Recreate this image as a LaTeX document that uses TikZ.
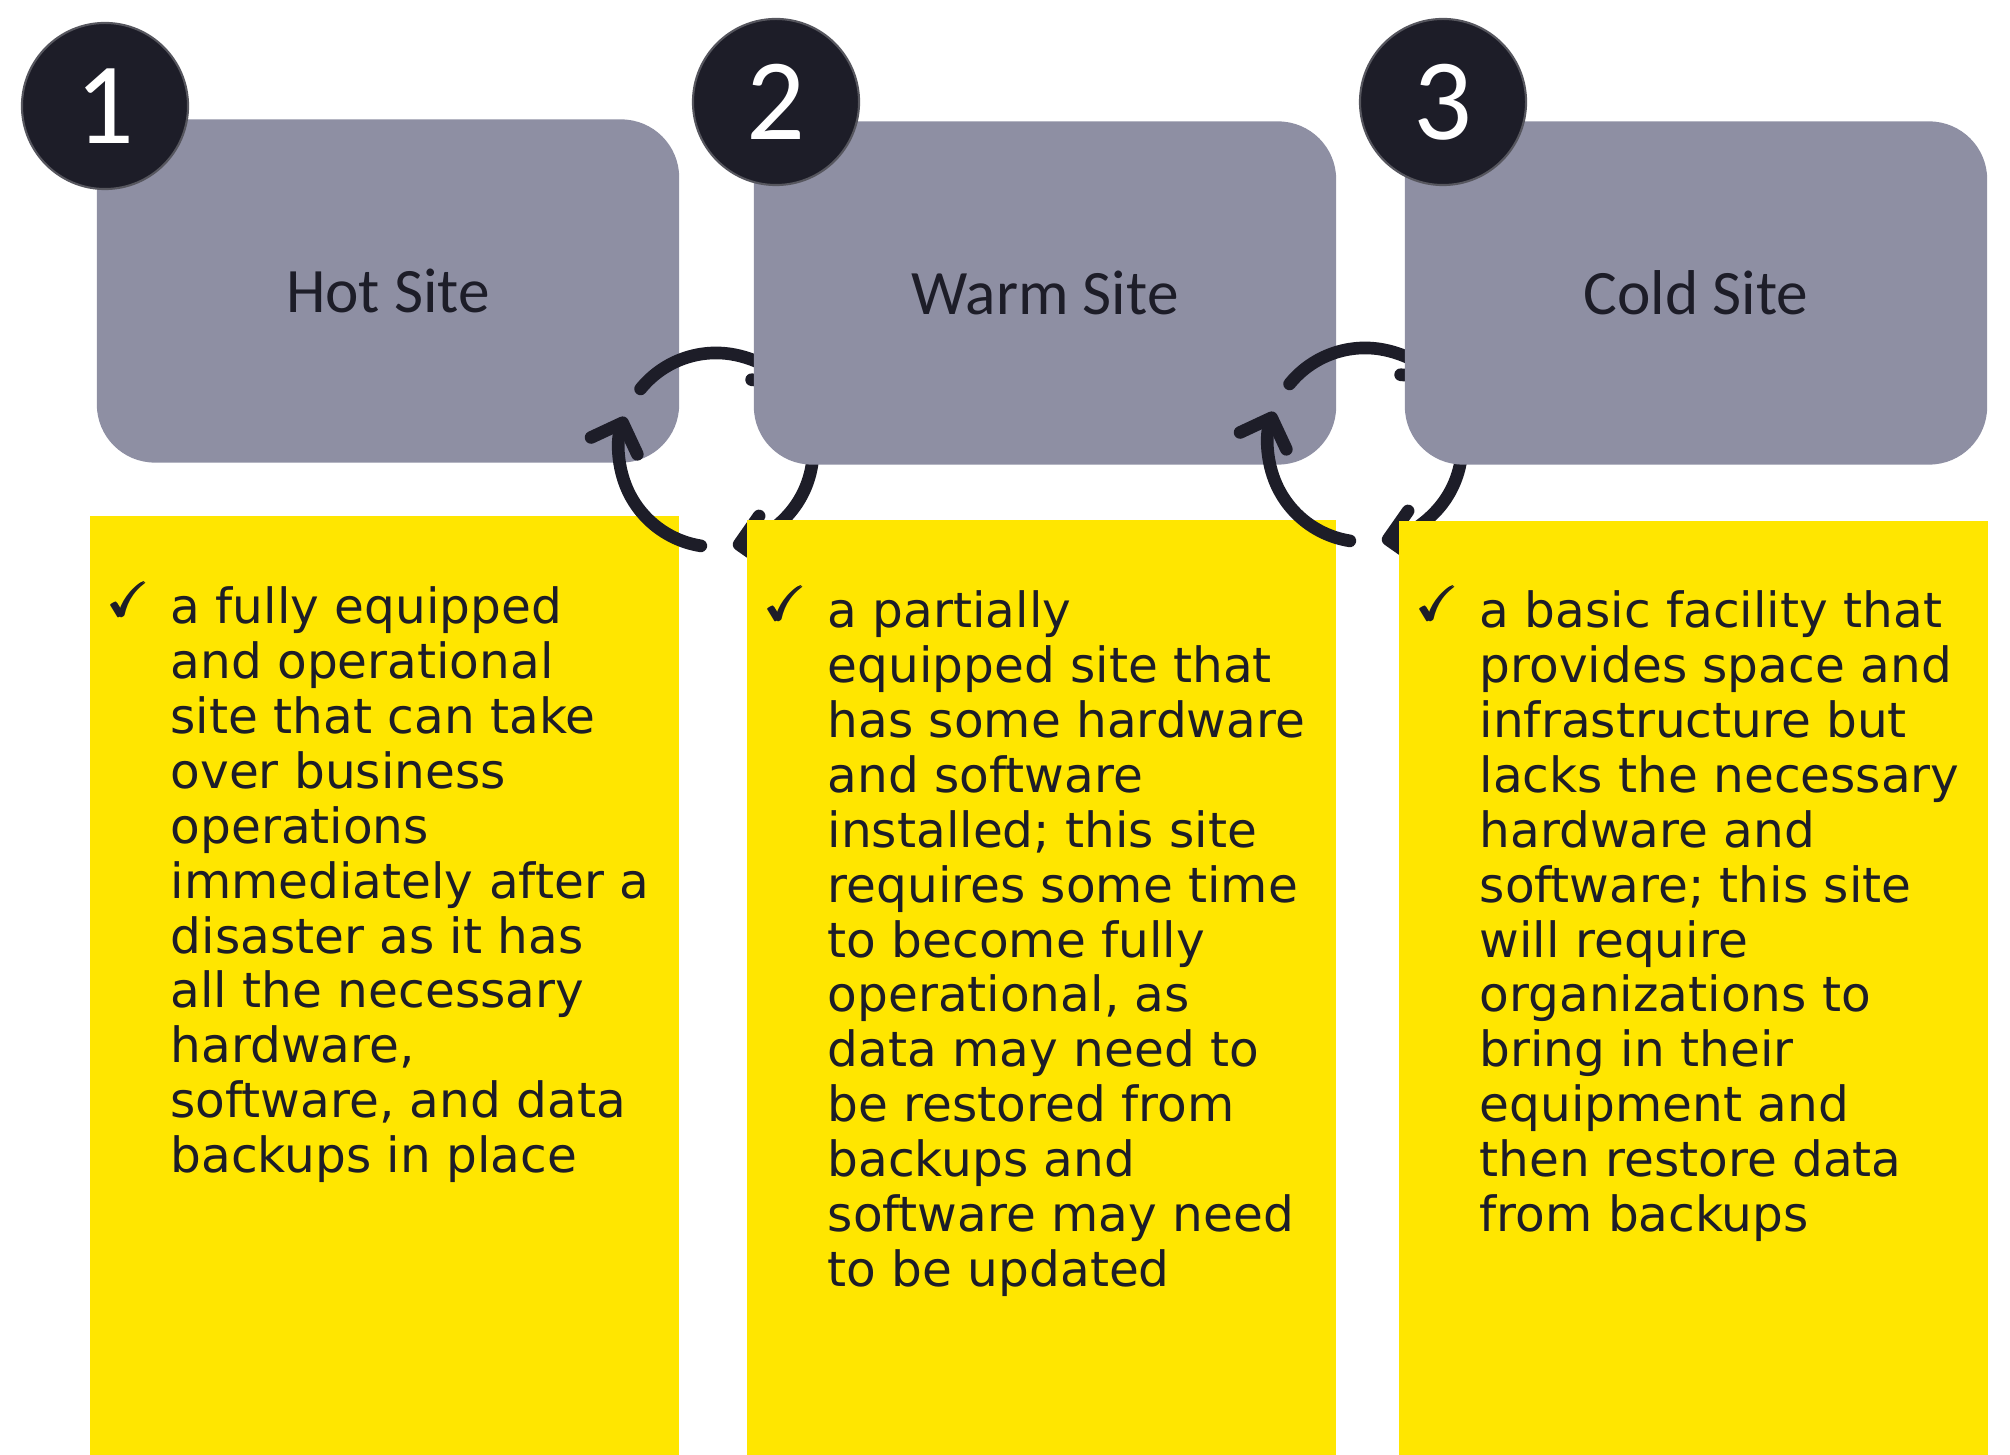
\documentclass[tikz,border=0pt]{standalone}
\usepackage{fontspec}
\usepackage{amsmath,amssymb}
\setmainfont{DejaVu Sans}
\newfontfamily\sitefont{Carlito}
\usetikzlibrary{arrows.meta}
\definecolor{navy}{HTML}{1D1D28}
\definecolor{slate}{HTML}{8E8FA3}
\definecolor{eyyellow}{HTML}{FFE600}
\newcommand{\tick}{\llap{\raisebox{2pt}{$\pmb{\checkmark}$}\hspace{6pt}}}

\begin{document}
\begin{tikzpicture}[x=0.01cm,y=0.01cm,
site node/.style={rectangle,rounded corners=0.58cm,fill=slate,minimum width=5.82cm,minimum height=3.43cm,inner sep=0pt,text=navy,font=\sitefont\fontsize{18}{20}\selectfont},
info box/.style={rectangle,fill=eyyellow,minimum width=5.89cm,inner sep=0pt,anchor=north},
num node/.style={circle,fill=navy,draw=navy!75!white,line width=0.6pt,minimum size=1.66cm,inner sep=0pt,text=white,font=\sitefont\fontsize{33}{36}\selectfont},
info text/.style={anchor=north west,align=left,inner sep=0pt,text=navy,font=\fontsize{13.8}{15.6}\selectfont},
turn arrow/.style={draw=navy,line width=3.6pt,line cap=round,-{Straight Barb[length=7pt,width=14pt,round]}}]

\useasboundingbox (0,0) rectangle (2010,1454);

% column 1
\node[info box,minimum height=9.39cm] (hotinfo) at (384.5,939) {};
\node[site node] (hot) at (388,1163) {Hot Site};
\node[num node] (n1) at (105,1348) {1};
\node[info text] (hottext) at (170,873) {\rule{0pt}{12pt}\tick a fully equipped\\
and operational\\
site that can take\\
over business\\
operations\\
immediately after a\\
disaster as it has\\
all the necessary\\
hardware,\\
software, and data\\
backups in place};

% cycle between 1 and 2
\coordinate (turnA) at (716,1004);
\draw[turn arrow] ([shift={(141:0.97cm)}]turnA) arc[start angle=141,end angle=40,radius=0.97cm];
\draw[turn arrow] ([shift={(21:0.97cm)}]turnA) arc[start angle=21,end angle=-80,radius=0.97cm];
\draw[turn arrow] ([shift={(261:0.97cm)}]turnA) arc[start angle=261,end angle=160,radius=0.97cm];

% column 2
\node[info box,minimum height=9.35cm] (warminfo) at (1041.5,935) {};
\node[site node] (warm) at (1045,1161) {Warm Site};
\node[num node] (n2) at (776,1352) {2};
\node[info text] (warmtext) at (827,869) {\rule{0pt}{12pt}\tick a partially\\
equipped site that\\
has some hardware\\
and software\\
installed; this site\\
requires some time\\
to become fully\\
operational, as\\
data may need to\\
be restored from\\
backups and\\
software may need\\
to be updated};

% cycle between 2 and 3
\coordinate (turnB) at (1365,1009);
\draw[turn arrow] ([shift={(141:0.97cm)}]turnB) arc[start angle=141,end angle=40,radius=0.97cm];
\draw[turn arrow] ([shift={(21:0.97cm)}]turnB) arc[start angle=21,end angle=-80,radius=0.97cm];
\draw[turn arrow] ([shift={(261:0.97cm)}]turnB) arc[start angle=261,end angle=160,radius=0.97cm];

% column 3
\node[info box,minimum height=9.34cm] (coldinfo) at (1693.5,934) {};
\node[site node] (cold) at (1696,1161) {Cold Site};
\node[num node] (n3) at (1443,1352) {3};
\node[info text] (coldtext) at (1479,869) {\rule{0pt}{12pt}\tick a basic facility that\\
provides space and\\
infrastructure but\\
lacks the necessary\\
hardware and\\
software; this site\\
will require\\
organizations to\\
bring in their\\
equipment and\\
then restore data\\
from backups};
\end{tikzpicture}
\end{document}
